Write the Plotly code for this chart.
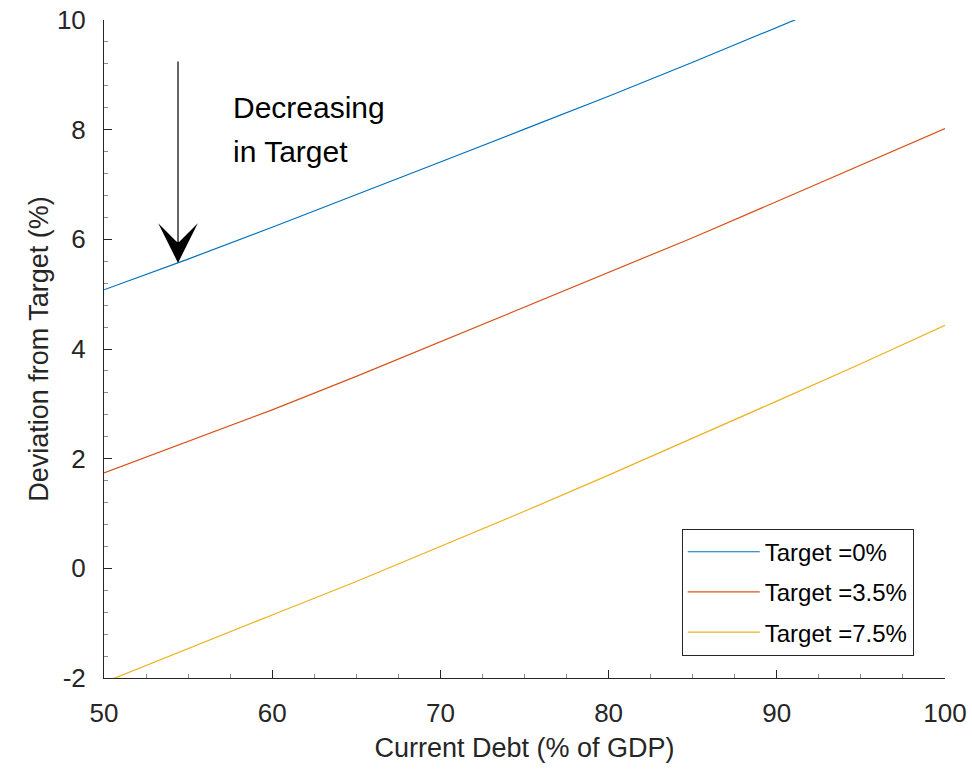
import plotly.graph_objects as go

# Data
debt = [50, 55, 60, 65, 70, 75, 80, 85, 90, 95, 100]
dev_target_0 = [5.08, 5.64, 6.22, 6.81, 7.41, 8.01, 8.61, 9.23, 9.86, 10.50, 11.15]
dev_target_35 = [1.74, 2.31, 2.89, 3.50, 4.13, 4.76, 5.39, 6.03, 6.69, 7.35, 8.02]
dev_target_75 = [-2.08, -1.46, -0.85, -0.24, 0.40, 1.04, 1.70, 2.37, 3.05, 3.73, 4.43]
series_names = ["Target =0%", "Target =3.5%", "Target =7.5%"]
series_values = [dev_target_0, dev_target_35, dev_target_75]
colors = ["#0072BD", "#D95319", "#EDB120"]

x_ticks = [50, 60, 70, 80, 90, 100]
y_ticks = [-2, 0, 2, 4, 6, 8, 10]

FONT = "Liberation Sans, Arial, Helvetica, sans-serif"
AX = "#262626"

fig = go.Figure()
for i, (name, vals, c) in enumerate(zip(series_names, series_values, colors)):
    fig.add_trace(go.Scatter(
        x=debt, y=vals, mode="lines", name=name,
        line=dict(color=c, width=1.2),
        legendgroup=f"g{i}",
    ))

fig.update_layout(
    width=972, height=774,
    margin=dict(l=104, r=27, t=20, b=96),
    paper_bgcolor="white", plot_bgcolor="white",
    font=dict(family=FONT, color=AX),
    showlegend=True,
    legend=dict(
        x=0.687, y=0.034, xanchor="left", yanchor="bottom",
        bgcolor="white", bordercolor="#262626", borderwidth=1,
        font=dict(family=FONT, size=24, color="black"),
        tracegroupgap=6,
        itemwidth=72,
    ),
    xaxis=dict(
        range=[50, 100], tickvals=x_ticks, ticktext=[str(v) for v in x_ticks],
        automargin=False, ticklabeloverflow="allow", ticklabelstandoff=12,
        showline=True, linecolor=AX, linewidth=1, mirror=False,
        showgrid=False, zeroline=False,
        ticks="inside", ticklen=8, tickcolor=AX, tickwidth=1,
        tickfont=dict(family=FONT, size=26, color=AX),
        minor=dict(ticks="inside", dtick=2.5, tick0=50, ticklen=4, tickcolor="#8c8c8c", showgrid=False),
        title=dict(text="Current Debt (% of GDP)", font=dict(family=FONT, size=27, color=AX), standoff=10),
    ),
    yaxis=dict(
        range=[-2, 10], tickvals=y_ticks, ticktext=[str(v) for v in y_ticks],
        automargin=False, ticklabeloverflow="allow", ticklabelstandoff=12,
        showline=True, linecolor=AX, linewidth=1, mirror=False,
        showgrid=False, zeroline=False,
        ticks="inside", ticklen=8, tickcolor=AX, tickwidth=1,
        tickfont=dict(family=FONT, size=26, color=AX),
        minor=dict(ticks="inside", dtick=0.4, tick0=-2, ticklen=4, tickcolor="#8c8c8c", showgrid=False),
        title=dict(text="Deviation from Target (%)", font=dict(family=FONT, size=27, color=AX), standoff=0),
    ),
)

# Arrow annotation
fig.add_annotation(
    x=54.4, y=5.57, xref="x", yref="y",
    ax=54.4, ay=9.27, axref="x", ayref="y",
    text="", showarrow=True, arrowhead=3, arrowsize=5.5, arrowwidth=1.2,
    arrowcolor="black", standoff=0,
)
fig.add_annotation(
    x=57.55, y=8.41, xref="x", yref="y", text="Decreasing",
    showarrow=False, xanchor="left", yanchor="middle",
    font=dict(family=FONT, size=30, color="black"),
)
fig.add_annotation(
    x=57.55, y=7.60, xref="x", yref="y", text="in Target",
    showarrow=False, xanchor="left", yanchor="middle",
    font=dict(family=FONT, size=30, color="black"),
)

fig.write_html(
    "out.html",
    config={"displayModeBar": False},
    post_script="document.body.style.margin='0';document.body.style.overflow='hidden';",
)
